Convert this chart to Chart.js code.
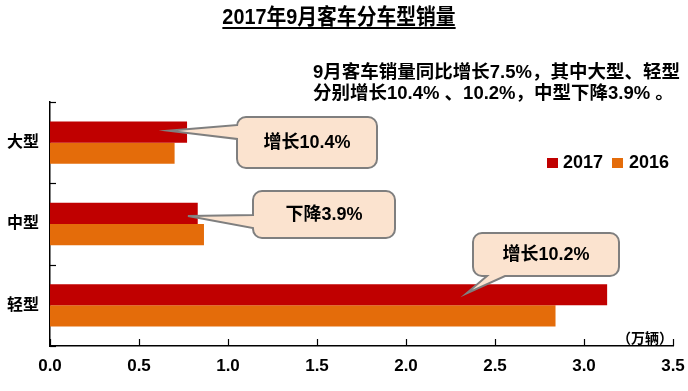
<!DOCTYPE html>
<html>
<head>
<meta charset="utf-8">
<script src="https://cdn.jsdelivr.net/npm/chart.js@4.4.1/dist/chart.umd.min.js"></script>
<style>
  html, body { margin: 0; padding: 0; background: #fff; }
  #wrap { position: relative; width: 688px; height: 391px; }
</style>
</head>
<body>
<div id="wrap"><canvas id="salesChart" width="688" height="391"></canvas></div>
<script>
// data (万辆)
const categories = ['大型', '中型', '轻型'];
const sales2017 = [0.77, 0.83, 3.13];
const sales2016 = [0.70, 0.865, 2.84];
const xTicks = [0, 0.5, 1, 1.5, 2, 2.5, 3, 3.5];
const callouts = ['增长10.4%', '下降3.9%', '增长10.2%'];

const FONT = '"Liberation Sans", "Noto Sans CJK SC", sans-serif';
const RED = '#C00000';
const ORANGE = '#E46C0A';

// title, note, legend, callouts and inward ticks
const decor = {
  id: 'decor',
  afterDatasetsDraw(chart) {
    const c = chart.ctx;
    const x = chart.scales.x, y = chart.scales.y;
    const area = chart.chartArea;
    c.save();

    // inward ticks
    c.strokeStyle = '#000';
    c.lineWidth = 1.2;
    xTicks.forEach(v => {
      const px = Math.round(x.getPixelForValue(v)) + 0.5;
      c.beginPath(); c.moveTo(px, area.bottom); c.lineTo(px, area.bottom - 7); c.stroke();
    });
    const half = (y.getPixelForValue(1) - y.getPixelForValue(0)) / 2;
    for (let i = 0; i <= categories.length; i++) {
      const py = Math.round(y.getPixelForValue(i) - half) + 0.5;
      c.beginPath(); c.moveTo(area.left, py); c.lineTo(area.left + 6, py); c.stroke();
    }

    // callouts: box in px, tip in data units
    const boxes = [
      { l: 237, t: 117, r: 377, b: 168, tip: [0.665, 0], dy: -12, side: 'left', b1: 125, b2: 139 },
      { l: 253, t: 191, r: 395, b: 238, tip: [0.775, 1], dy: -8, side: 'left', b1: 215, b2: 228 },
      { l: 473, t: 233, r: 619, b: 276, tip: [2.34, 2], dy: -12, side: 'bottom', b1: 487, b2: 505 }
    ];
    boxes.forEach((bx, i) => {
      const tx = x.getPixelForValue(bx.tip[0]);
      const ty = y.getPixelForValue(bx.tip[1]) + bx.dy;
      const rr = 9;
      c.beginPath();
      c.moveTo(bx.l + rr, bx.t);
      c.lineTo(bx.r - rr, bx.t);
      c.arcTo(bx.r, bx.t, bx.r, bx.t + rr, rr);
      c.lineTo(bx.r, bx.b - rr);
      c.arcTo(bx.r, bx.b, bx.r - rr, bx.b, rr);
      if (bx.side === 'bottom') {
        c.lineTo(bx.b2, bx.b);
        c.lineTo(tx, ty);
        c.lineTo(bx.b1, bx.b);
      }
      c.lineTo(bx.l + rr, bx.b);
      c.arcTo(bx.l, bx.b, bx.l, bx.b - rr, rr);
      if (bx.side === 'left') {
        c.lineTo(bx.l, bx.b2);
        c.lineTo(tx, ty);
        c.lineTo(bx.l, bx.b1);
      }
      c.lineTo(bx.l, bx.t + rr);
      c.arcTo(bx.l, bx.t, bx.l + rr, bx.t, rr);
      c.closePath();
      c.fillStyle = '#FBE3CF';
      c.fill();
      c.strokeStyle = '#7F7F7F';
      c.lineWidth = 2;
      c.stroke();
      c.fillStyle = '#000';
      c.font = 'bold 18px ' + FONT;
      c.textAlign = 'center';
      c.textBaseline = 'middle';
      c.fillText(callouts[i], (bx.l + bx.r) / 2, (bx.t + bx.b) / 2 + 1);
    });

    // title (a bit condensed, like the original)
    c.fillStyle = '#000';
    c.font = 'bold 22px ' + FONT;
    c.textAlign = 'center';
    c.textBaseline = 'alphabetic';
    const title = '2017年9月客车分车型销量';
    c.save();
    c.translate(339, 0);
    c.scale(0.9, 1);
    c.fillText(title, 0, 24);
    const tw = c.measureText(title).width;
    c.fillRect(-tw / 2, 27, tw, 2);
    c.restore();

    // note
    c.font = 'bold 18.5px ' + FONT;
    c.textAlign = 'left';
    c.textBaseline = 'middle';
    c.fillText('9月客车销量同比增长7.5%，其中大型、轻型', 313, 73);
    c.fillText('分别增长10.4% 、10.2%，中型下降3.9% 。', 313, 94);

    // legend
    c.fillStyle = RED; c.fillRect(547, 158, 11, 10);
    c.fillStyle = ORANGE; c.fillRect(612, 158, 11, 10);
    c.fillStyle = '#000';
    c.font = 'bold 18px ' + FONT;
    c.fillText('2017', 563, 163);
    c.fillText('2016', 629, 163);

    // unit
    c.font = 'bold 14px ' + FONT;
    c.textAlign = 'right';
    c.fillText('（万辆）', 673, 339);
    c.restore();
  }
};

new Chart(document.getElementById('salesChart'), {
  type: 'bar',
  data: {
    labels: categories,
    datasets: [
      { label: '2017', data: sales2017, backgroundColor: RED },
      { label: '2016', data: sales2016, backgroundColor: ORANGE }
    ]
  },
  options: {
    indexAxis: 'y',
    responsive: false,
    animation: false,
    layout: { padding: { top: 102, right: 15, left: 0, bottom: 0 } },
    datasets: { bar: { categoryPercentage: 0.52, barPercentage: 1.0 } },
    scales: {
      x: {
        min: 0, max: 3.5,
        afterBuildTicks: s => { s.ticks = xTicks.map(v => ({ value: v })); },
        afterFit: s => { s.height = 45; s.paddingRight = 0; s.paddingLeft = 0; },
        grid: { display: false, drawTicks: false },
        border: { color: '#000', width: 1.5 },
        ticks: {
          padding: 10,
          color: '#000',
          font: { family: FONT, size: 17, weight: 'bold' },
          callback: v => Number(v).toFixed(1)
        }
      },
      y: {
        afterFit: s => { s.width = 50; },
        grid: { display: false, drawTicks: false },
        border: { color: '#000', width: 1.5 },
        ticks: {
          padding: 11,
          color: '#000',
          font: { family: FONT, size: 16, weight: 'bold' }
        }
      }
    },
    plugins: {
      legend: { display: false },
      title: { display: false },
      tooltip: { enabled: false }
    }
  },
  plugins: [decor]
});
</script>
</body>
</html>
